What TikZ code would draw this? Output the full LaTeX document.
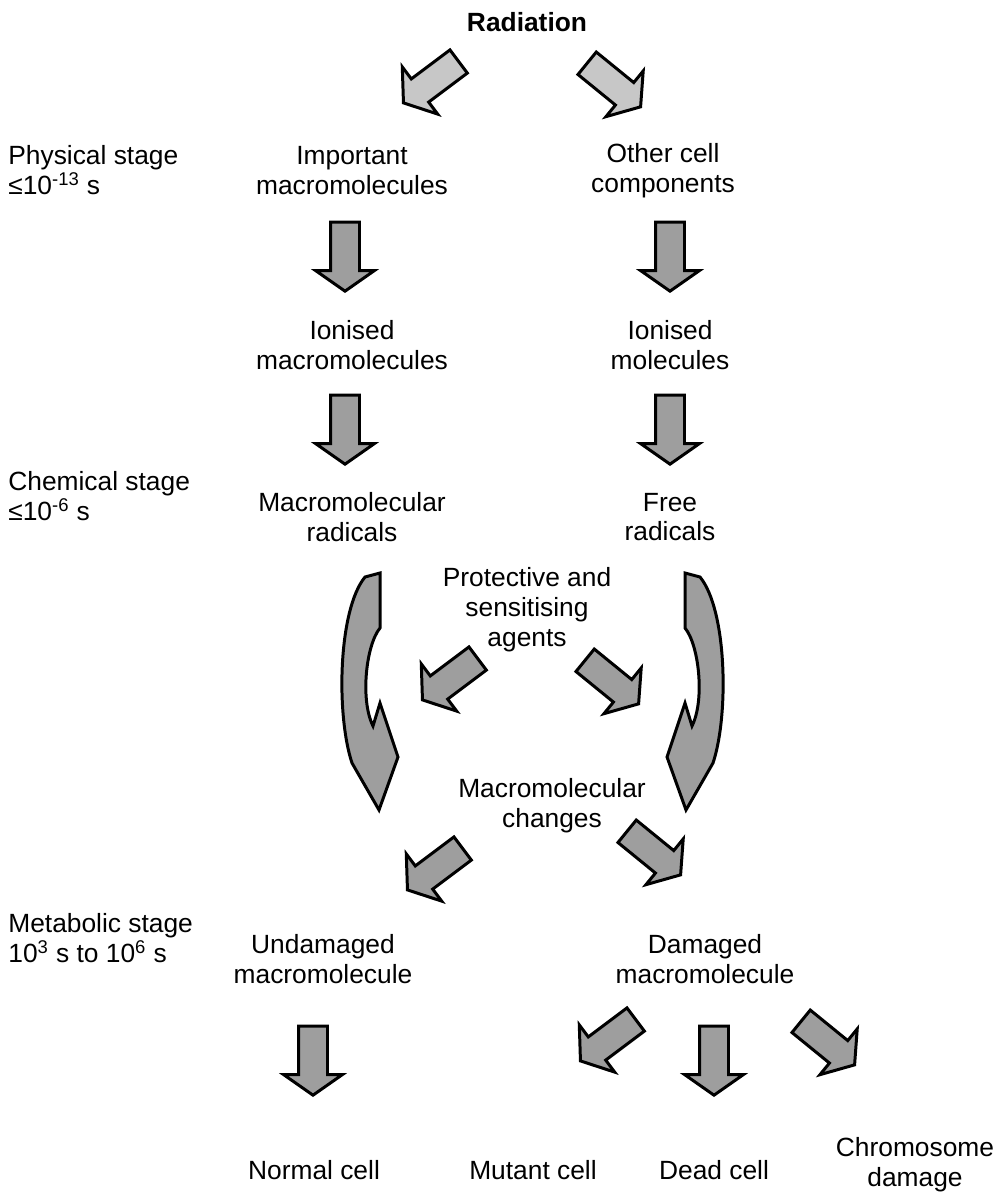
\documentclass[tikz,border=0pt]{standalone}
\usepackage{fontspec}
\setmainfont{Liberation Sans}
\usetikzlibrary{shapes.arrows,calc,positioning}
\tikzset{
	txt/.style={
		font=\fontsize{15}{17}\selectfont, align=center, inner sep=0pt
	},
	%
	stagetxt/.style={
		txt, align=left, anchor=west
	},
	%
	blockarrow/.style={
		single arrow, draw=black, line width=1.7pt, fill=black!38,
		minimum height=1.38cm, inner xsep=0pt, inner ysep=0.26cm,
		single arrow head extend=0.3cm, single arrow tip angle=110,
		sloped, allow upside down, anchor=tip, pos=1
	},
	%
	lightarrow/.style={
		blockarrow, fill=black!22
	},
	%
	bentfill/.style={
		draw=black, line width=1.7pt, fill=black!38, line join=miter
	},
	%
	bentarrow/.pic={
		\filldraw[bentfill] (0,0) -- (0,55) .. controls (-14,72) and (-20,127) .. (-7,153)
		-- (0,130) -- (18,184) -- (-1,237) -- (-28,190)
		.. controls (-44,142) and (-42,37) .. (-15,4) -- cycle;
	}
}

\begin{document}
\begin{tikzpicture}[x=0.02cm, y=-0.02cm]
    \useasboundingbox (0,0) rectangle (998,1195);
    % stages
    \node(phys)[stagetxt] at (8,170) {Physical stage\\ ≤10\textsuperscript{-13} s};
    \node(chem)[stagetxt] at (8,496) {Chemical stage\\ ≤10\textsuperscript{-6} s};
    \node(meta)[stagetxt] at (8,938) {Metabolic stage\\ 10\textsuperscript{3} s to 10\textsuperscript{6} s};
    % main flow
    \node(rad)[txt, font=\fontsize{15}{17}\selectfont\bfseries] at (527,22) {Radiation};
    \node(imp)[txt] at (352,171) {Important\\ macromolecules};
    \node(oth)[txt] at (663,171) {Other cell\\ components};
    \node(ionm)[txt] at (352,345) {Ionised\\ macromolecules};
    \node(ionmol)[txt] at (670,345) {Ionised\\ molecules};
    \node(mrad)[txt] at (352,517) {Macromolecular\\ radicals};
    \node(free)[txt] at (670,517) {Free\\ radicals};
    \node(prot)[txt] at (527,610) {Protective and\\ sensitising\\ agents};
    \node(chg)[txt] at (552,806) {Macromolecular\\ changes};
    \node(undam)[txt] at (323,959) {Undamaged\\ macromolecule};
    \node(dam)[txt] at (705,959) {Damaged\\ macromolecule};
    \node(normal)[txt] at (314,1170) {Normal cell};
    \node(mutant)[txt] at (533,1170) {Mutant cell};
    \node(dead)[txt] at (714,1170) {Dead cell};
    \node(chrom)[txt] at (915,1165) {Chromosome\\ damage};
    % block arrows
    \path ($(rad)+(-69,40)$) -- node[lightarrow]{} ($(imp)+(50,-67)$);
    \path ($(rad)+(61,42)$) -- node[lightarrow]{} ($(oth)+(-21,-63)$);
    \path ($(imp)+(-7,54)$) -- node[blockarrow]{} ($(ionm)+(-7,-52)$);
    \path ($(oth)+(7,54)$) -- node[blockarrow]{} ($(ionmol)+(0,-52)$);
    \path ($(ionm)+(-7,53)$) -- node[blockarrow]{} ($(mrad)+(-7,-51)$);
    \path ($(ionmol)+(0,53)$) -- node[blockarrow]{} ($(free)+(0,-51)$);
    \path ($(prot)+(-50,49)$) -- node[blockarrow]{} ($(prot)+(-106,91)$);
    \path ($(prot)+(59,51)$) -- node[blockarrow]{} ($(prot)+(113,95)$);
    \path ($(chg)+(-90,43)$) -- node[blockarrow]{} ($(undam)+(83,-68)$);
    \path ($(chg)+(76,26)$) -- node[blockarrow]{} ($(dam)+(-23,-83)$);
    \path ($(undam)+(-10,70)$) -- node[blockarrow]{} ($(normal)+(-1,-73)$);
    \path ($(dam)+(-70,61)$) -- node[blockarrow]{} ($(mutant)+(46,-108)$);
    \path ($(dam)+(9,70)$) -- node[blockarrow]{} ($(dead)+(0,-73)$);
    \path ($(dam)+(97,63)$) -- node[blockarrow]{} ($(chrom)+(-59,-99)$);
    % curved arrows
    \pic at ($(mrad)+(28,56)$) {bentarrow};
    \pic[xscale=-1] at ($(free)+(15,56)$) {bentarrow};
\end{tikzpicture}
\end{document}
